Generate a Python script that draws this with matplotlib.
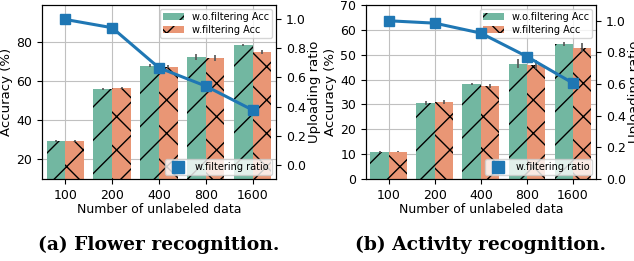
import numpy as np
import matplotlib
matplotlib.use('Agg')
import matplotlib.pyplot as plt
from matplotlib.lines import Line2D

sizes = ['100', '200', '400', '800', '1600']

# flower recognition
flower_wo_acc = [29.5, 56.0, 68.0, 72.5, 78.5]
flower_wo_err = [0.5, 0.5, 0.8, 1.5, 0.4]
flower_w_acc = [29.5, 56.5, 67.5, 72.0, 75.0]
flower_w_err = [0.5, 0.5, 0.8, 1.5, 1.0]
flower_ratio = [1.0, 0.943, 0.667, 0.541, 0.376]

# activity recognition
act_wo_acc = [11.0, 30.5, 38.3, 46.3, 54.3]
act_wo_err = [0.4, 0.8, 0.3, 1.8, 1.0]
act_w_acc = [11.0, 31.0, 37.5, 46.0, 52.8]
act_w_err = [0.3, 0.8, 0.8, 1.8, 1.8]
act_ratio = [1.0, 0.985, 0.922, 0.774, 0.606]

green = '#72b7a1'
orange = '#e99675'
blue = '#1f77b4'
fs = 9


def draw_panel(rect, wo_acc, wo_err, w_acc, w_err, ratio, ylim, yticks, rlim, caption):
    ax = fig.add_axes(rect)
    x = np.arange(len(sizes))
    ax.bar(x - 0.2, wo_acc, 0.4, color=green, hatch='/', edgecolor='black', linewidth=0,
           label='w.o.filtering Acc', zorder=2)
    ax.bar(x + 0.2, w_acc, 0.4, color=orange, hatch='x', edgecolor='black', linewidth=0,
           label='w.filtering Acc', zorder=2)
    ax.errorbar(x - 0.2, wo_acc, yerr=wo_err, fmt='none', ecolor='#555555', elinewidth=1.2, zorder=3)
    ax.errorbar(x + 0.2, w_acc, yerr=w_err, fmt='none', ecolor='#555555', elinewidth=1.2, zorder=3)
    ax.set_xlim(-0.5, len(sizes) - 0.5)
    ax.set_ylim(*ylim)
    ax.set_yticks(yticks)
    ax.set_xticks(x)
    ax.set_xticklabels(sizes)
    ax.grid(True, color='#c0c0c0', linewidth=0.8, zorder=0)
    ax.set_axisbelow(True)
    ax.tick_params(labelsize=fs)
    ax.set_xlabel('Number of unlabeled data', fontsize=fs, labelpad=1)
    ax.set_ylabel('Accuracy (%)', fontsize=9.5, labelpad=2)
    ax.legend(loc='upper right', fontsize=7, handlelength=2.2, borderaxespad=0.4,
              labelspacing=0.3, borderpad=0.3)

    ax2 = ax.twinx()
    ax2.plot(x, ratio, color=blue, marker='s', markersize=7, linewidth=2.2)
    ax2.set_ylim(*rlim)
    ax2.set_yticks(np.arange(0, 1.01, 0.2))
    ax2.tick_params(labelsize=fs)
    ax2.set_ylabel('Uploading ratio', fontsize=9.5, labelpad=2)
    proxy = Line2D([], [], color=blue, marker='s', markersize=8, linestyle='None')
    ax2.legend([proxy], ['w.filtering ratio'], loc='lower right', fontsize=7,
               borderaxespad=0.4, borderpad=0.3)

    cx = rect[0] + rect[2] / 2
    fig.text(cx, 0.042, caption, ha='center', va='baseline', fontsize=13.5,
             fontweight='bold', family='DejaVu Serif')


fig = plt.figure(figsize=(6.34, 2.61), dpi=100)

draw_panel([0.0662, 0.314, 0.369, 0.667], flower_wo_acc, flower_wo_err, flower_w_acc, flower_w_err,
           flower_ratio, (10, 99), [20, 40, 60, 80], (-0.1, 1.1), '(a) Flower recognition.')
draw_panel([0.577, 0.314, 0.363, 0.667], act_wo_acc, act_wo_err, act_w_acc, act_w_err,
           act_ratio, (0, 70), np.arange(0, 71, 10), (0, 1.1), '(b) Activity recognition.')

fig.savefig('out.png', dpi=100)
